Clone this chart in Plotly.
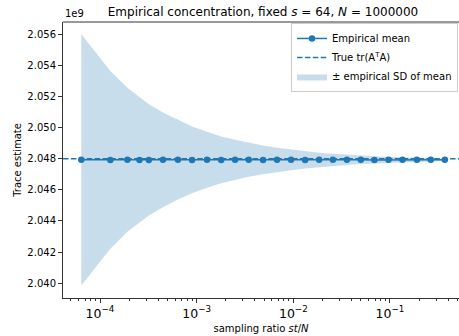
import plotly.graph_objects as go

# Experiment setup
s = 64
N = 1_000_000

# Number of sampled blocks t at each step
t_values = [1, 2, 3, 4, 5, 7, 10, 14, 20, 28, 39, 54, 76, 106, 148, 207,
            289, 401, 560, 780, 1079, 1507, 2104, 2965, 4130, 5770]

# Empirical mean of the trace estimator at each t
mean_estimate = [2.047930e9, 2.047925e9, 2.047932e9, 2.047928e9, 2.047926e9,
                 2.047931e9, 2.047929e9, 2.047927e9, 2.047930e9, 2.047928e9,
                 2.047929e9, 2.047931e9, 2.047928e9, 2.047930e9, 2.047929e9,
                 2.047928e9, 2.047930e9, 2.047929e9, 2.047930e9, 2.047929e9,
                 2.047928e9, 2.047929e9, 2.047930e9, 2.047929e9, 2.047929e9,
                 2.047929e9]

# Empirical standard deviation of the mean at each t
sd_of_mean = [8.07e6, 5.71e6, 4.63e6, 4.02e6, 3.57e6, 3.04e6, 2.55e6, 2.14e6,
              1.80e6, 1.51e6, 1.29e6, 1.09e6, 0.92e6, 0.78e6, 0.66e6, 0.55e6,
              0.46e6, 0.39e6, 0.33e6, 0.27e6, 0.23e6, 0.19e6, 0.16e6, 0.12e6,
              0.10e6, 0.07e6]

true_trace = 2.048e9

y_tickvals = [2.040e9, 2.042e9, 2.044e9, 2.046e9, 2.048e9, 2.050e9, 2.052e9,
              2.054e9, 2.056e9]
y_ticktext = ["2.040", "2.042", "2.044", "2.046", "2.048", "2.050", "2.052",
              "2.054", "2.056"]

C0 = "#1f77b4"
FONT = "DejaVu Sans"

ratio = [s * t / N for t in t_values]
upper = [m + d for m, d in zip(mean_estimate, sd_of_mean)]
lower = [m - d for m, d in zip(mean_estimate, sd_of_mean)]

x_range_log = [-4.383, -0.286]
y_range = [2.03905e9, 2.05679e9]

fig = go.Figure()

# Shaded ± SD band
fig.add_trace(go.Scatter(
    x=ratio + ratio[::-1],
    y=upper + lower[::-1],
    fill="toself",
    fillcolor="rgba(31,119,180,0.25)",
    line=dict(width=0),
    mode="lines",
    name="± empirical SD of mean",
    legendrank=3,
    hoverinfo="skip",
))

# Empirical mean
fig.add_trace(go.Scatter(
    x=ratio, y=mean_estimate,
    mode="lines+markers",
    line=dict(color=C0, width=1.5),
    marker=dict(color=C0, size=6.5),
    name="Empirical mean",
    legendrank=1,
))

# Reference line at the true trace, spanning the full x-range
fig.add_trace(go.Scatter(
    x=[10 ** x_range_log[0], 10 ** x_range_log[1]],
    y=[true_trace, true_trace],
    mode="lines",
    line=dict(color=C0, width=1.5, dash="5.5px,2.4px"),
    name="True tr(A<sup>T</sup>A)",
    legendrank=2,
))

fig.update_layout(
    width=459, height=336,
    margin=dict(l=63, r=0, t=22, b=38),
    paper_bgcolor="white",
    plot_bgcolor="white",
    font=dict(family=FONT, size=10, color="black"),
    showlegend=True,
    legend=dict(
        x=0.9975, y=0.9965, xanchor="right", yanchor="top",
        bgcolor="rgba(255,255,255,0.8)",
        bordercolor="#cccccc", borderwidth=1,
        font=dict(family=FONT, size=10),
        itemwidth=30,
        tracegroupgap=0,
    ),
    title=dict(
        text="Empirical concentration, fixed <i>s</i> = 64, <i>N</i> = 1000000",
        font=dict(family=FONT, size=12),
        x=(263 - 63) / 396, xref="paper", xanchor="center",
        y=1 - 12 / 336, yref="container", yanchor="middle",
    ),
)

fig.update_xaxes(
    type="log",
    range=x_range_log,
    showgrid=False, zeroline=False,
    showline=True, linecolor="#333", linewidth=1,
    ticks="outside", ticklen=4, tickcolor="#333", tickwidth=1,
    dtick=1, exponentformat="power",
    tickfont=dict(family=FONT, size=10),
    minor=dict(ticks="outside", ticklen=2, tickcolor="#333", dtick="D1",
               showgrid=False),
    title=dict(text="sampling ratio <i>st</i>/<i>N</i>", standoff=5,
               font=dict(family=FONT, size=10)),
)

fig.update_yaxes(
    range=y_range,
    showgrid=False, zeroline=False,
    showline=True, linecolor="#333", linewidth=1,
    ticks="outside", ticklen=4, tickcolor="#333", tickwidth=1,
    tickvals=y_tickvals, ticktext=y_ticktext,
    tickfont=dict(family=FONT, size=10),
    title=dict(text="Trace estimate", standoff=3,
               font=dict(family=FONT, size=10)),
)

# Top spine
fig.add_shape(type="line", xref="paper", yref="paper",
              x0=0, x1=1, y0=1, y1=1, line=dict(color="#333", width=1))

# Axis offset label
fig.add_annotation(text="1e9", xref="paper", yref="paper",
                   x=0, y=1, xanchor="left", yanchor="bottom",
                   yshift=1, showarrow=False,
                   font=dict(family=FONT, size=10))

fig.write_html("out.html")
